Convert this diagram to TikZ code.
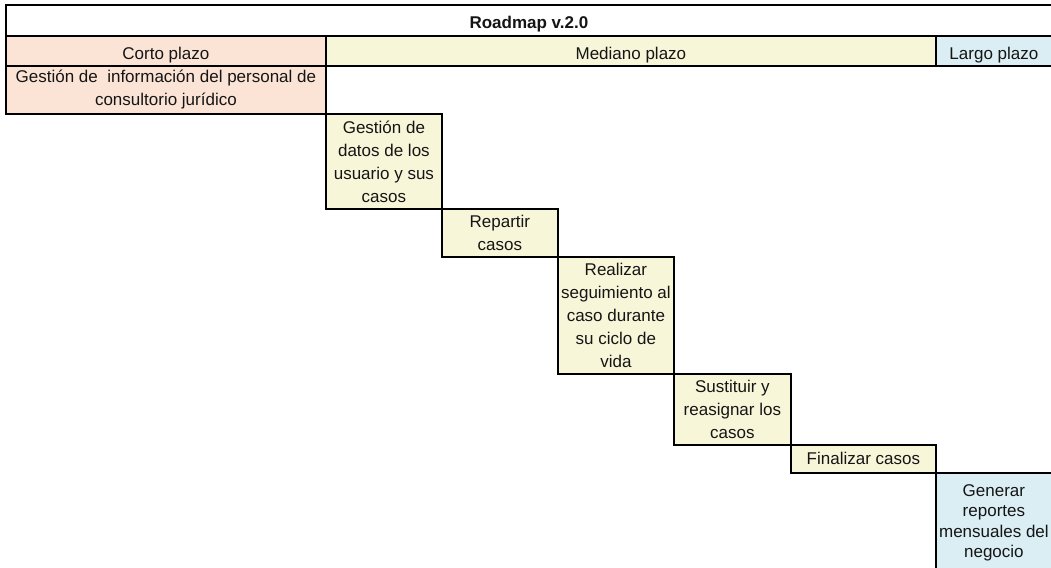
\documentclass[tikz,border=0pt]{standalone}
\usepackage{fontspec}
\setmainfont{Liberation Sans}
\definecolor{shortfill}{HTML}{FBE4D6}
\definecolor{midfill}{HTML}{F8F6D9}
\definecolor{longfill}{HTML}{DBEEF4}
\definecolor{inktext}{HTML}{151515}
\begin{document}
\begin{tikzpicture}[x=1pt,y=-1pt,
  cell/.style={draw=black, line width=1.8pt, anchor=north west, inner sep=0pt,
    align=center, text=inktext, font=\fontsize{17}{23}\selectfont},
  headcell/.style={cell, text height=17pt, text depth=0pt},
  shortcell/.style={cell, fill=shortfill},
  midcell/.style={cell, fill=midfill},
  longcell/.style={cell, fill=longfill}]
\useasboundingbox (0,0) rectangle (1051,567);
\fill[white] (0,0) rectangle (1051,567);

% title and phase headers
\node[headcell, fill=white, minimum width=1046pt, minimum height=31pt,
  font=\fontsize{17}{23}\selectfont\bfseries] (title) at (5,4) {Roadmap v.2.0};
\node[headcell, fill=shortfill, minimum width=320pt, minimum height=30pt] (corto) at (5,35) {Corto plazo};
\node[headcell, fill=midfill, minimum width=610pt, minimum height=30pt] (mediano) at (325,35) {Mediano plazo};
\node[headcell, fill=longfill, minimum width=116pt, minimum height=30pt] (largo) at (935,35) {Largo plazo};

% roadmap items, one step down per item
\node[shortcell, minimum width=320pt, minimum height=48pt] (info) at (5,65)
  {Gestión de~ información del personal de\\consultorio jurídico};
\node[midcell, minimum width=116pt, minimum height=95pt] (datos) at (325,113)
  {Gestión de\\datos de los\\usuario y sus\\casos};
\node[midcell, minimum width=116pt, minimum height=48pt] (repartir) at (441,208)
  {Repartir\\casos};
\node[midcell, minimum width=116pt, minimum height=117pt] (seguimiento) at (557,256)
  {Realizar\\seguimiento al\\caso durante\\su ciclo de\\vida};
\node[midcell, minimum width=117pt, minimum height=71pt] (sustituir) at (673,373)
  {Sustituir y\\reasignar los\\casos};
\node[midcell, minimum width=145pt, minimum height=28pt] (finalizar) at (790,444)
  {Finalizar casos};
\node[longcell, minimum width=116pt, minimum height=100pt,
  font=\fontsize{17}{20.5}\selectfont] (reportes) at (935,472)
  {Generar\\reportes\\mensuales del\\negocio};
\end{tikzpicture}
\end{document}
